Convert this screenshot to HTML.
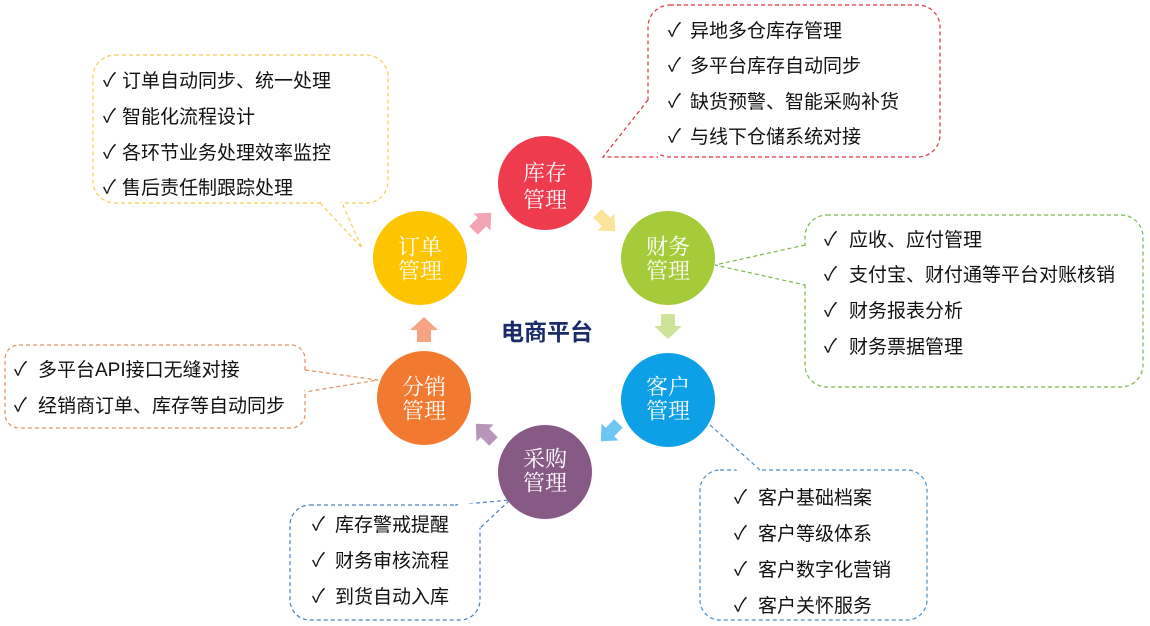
<!DOCTYPE html>
<html><head><meta charset="utf-8"><style>
html,body{margin:0;padding:0;background:#fff;width:1150px;height:626px;overflow:hidden}
svg text{font-family:"Liberation Sans","Noto Sans CJK SC",sans-serif}
.t{font-size:19px;fill:#111;dominant-baseline:central}
.c{font-size:22px;fill:#fff;text-anchor:middle;dominant-baseline:central;font-family:"Noto Serif CJK SC","Noto Sans CJK SC",serif!important}
</style></head><body>
<svg width="1150" height="626" viewBox="0 0 1150 626" xmlns="http://www.w3.org/2000/svg">
<g fill="none" stroke-width="1.2" stroke-dasharray="4,3">
 <!-- orders -->
 <rect x="93" y="55" width="295" height="148" rx="22" stroke="#f2cf55"/>
 <!-- inventory -->
 <rect x="648" y="5" width="292" height="152" rx="22" stroke="#e0323e"/>
 <!-- finance -->
 <rect x="805" y="215" width="338" height="172" rx="22" stroke="#7ab648"/>
 <!-- distribution -->
 <rect x="5" y="345" width="300" height="83" rx="14" stroke="#e09060"/>
 <!-- customer -->
 <rect x="700" y="470" width="227" height="150" rx="20" stroke="#4a90c8"/>
 <!-- purchase -->
 <rect x="290" y="505" width="190" height="115" rx="20" stroke="#4a7fc0"/>
</g>
<g stroke-width="1.2" stroke-dasharray="4,3" fill="#fff">
 <path d="M320 203 L362 248 L342 203" stroke="#f2cf55"/>
 <path d="M648 100 L603 157 L658 157" stroke="#e0323e"/>
 <path d="M805 245 L715 265 L805 285" stroke="#7ab648"/>
 <path d="M305 370 L378 380 L305 392" stroke="#e09060"/>
 <path d="M710 425 L760 470 L735 470" stroke="#4a90c8"/>
 <path d="M455 505 L510 500 L480 528" stroke="#4a7fc0"/>
</g>
<g stroke="#fff" stroke-width="3">
 <line x1="322" y1="203" x2="340" y2="203"/>
 <line x1="648" y1="103" x2="648" y2="155"/>
 <line x1="805" y1="247" x2="805" y2="283"/>
 <line x1="305" y1="372" x2="305" y2="390"/>
 <line x1="737" y1="470" x2="758" y2="470"/>
 <line x1="458" y1="505" x2="480" y2="505"/>
 <line x1="480" y1="507" x2="480" y2="526"/>
</g>
<!-- circles -->
<circle cx="545" cy="183" r="47" fill="#ef3b4e"/>
<circle cx="668" cy="258" r="47" fill="#a6cb3a"/>
<circle cx="668" cy="400" r="47" fill="#0ea0e6"/>
<circle cx="545" cy="472" r="47" fill="#875a86"/>
<circle cx="424" cy="398" r="47" fill="#f27a30"/>
<circle cx="420" cy="258" r="47" fill="#fdc500"/>
<text class="c" x="545" y="172">库存</text><text class="c" x="545" y="199">管理</text>
<text class="c" x="668" y="246">财务</text><text class="c" x="668" y="270">管理</text>
<text class="c" x="668" y="386">客户</text><text class="c" x="668" y="410">管理</text>
<text class="c" x="545" y="458">采购</text><text class="c" x="545" y="482">管理</text>
<text class="c" x="424" y="386">分销</text><text class="c" x="424" y="410">管理</text>
<text class="c" x="420" y="246">订单</text><text class="c" x="420" y="270">管理</text>
<!-- arrows -->
<g>
 <polygon transform="translate(482,222) rotate(45)" points="-12,0 0,-13 12,0 6,0 6,12 -6,12 -6,0" fill="#f4a5b5"/>
 <polygon transform="translate(606,222) rotate(135)" points="-12,0 0,-13 12,0 6,0 6,12 -6,12 -6,0" fill="#fce49a"/>
 <polygon transform="translate(668,326) rotate(180)" points="-14,0 0,-13 14,0 7,0 7,12 -7,12 -7,0" fill="#cfe29a"/>
 <polygon transform="translate(610,432) rotate(225)" points="-12,0 0,-13 12,0 6,0 6,12 -6,12 -6,0" fill="#6ec6f2"/>
 <polygon transform="translate(485,433) rotate(-45)" points="-12,0 0,-13 12,0 6,0 6,12 -6,12 -6,0" fill="#b894b8"/>
 <polygon transform="translate(424,330)" points="-14,0 0,-13 14,0 7,0 7,12 -7,12 -7,0" fill="#f6a484"/>
</g>
<text x="547" y="332" text-anchor="middle" dominant-baseline="central" style="font-size:23px;font-weight:bold;fill:#1a2a6a">电商平台</text>
<!-- lists -->
<g class="t">
 <text class="t" x="103" y="81">✓ <tspan x="122">订单自动同步、统一处理</tspan></text>
 <text class="t" x="103" y="117">✓ <tspan x="122">智能化流程设计</tspan></text>
 <text class="t" x="103" y="153">✓ <tspan x="122">各环节业务处理效率监控</tspan></text>
 <text class="t" x="103" y="188">✓ <tspan x="122">售后责任制跟踪处理</tspan></text>

 <text class="t" x="668" y="31">✓ <tspan x="690">异地多仓库存管理</tspan></text>
 <text class="t" x="668" y="66">✓ <tspan x="690">多平台库存自动同步</tspan></text>
 <text class="t" x="668" y="102">✓ <tspan x="690">缺货预警、智能采购补货</tspan></text>
 <text class="t" x="668" y="137">✓ <tspan x="690">与线下仓储系统对接</tspan></text>

 <text class="t" x="824" y="240">✓ <tspan x="849">应收、应付管理</tspan></text>
 <text class="t" x="824" y="275">✓ <tspan x="849">支付宝、财付通等平台对账核销</tspan></text>
 <text class="t" x="824" y="311">✓ <tspan x="849">财务报表分析</tspan></text>
 <text class="t" x="824" y="347">✓ <tspan x="849">财务票据管理</tspan></text>

 <text class="t" x="14" y="370">✓ <tspan x="38">多平台API接口无缝对接</tspan></text>
 <text class="t" x="14" y="406">✓ <tspan x="38">经销商订单、库存等自动同步</tspan></text>

 <text class="t" x="734" y="498">✓ <tspan x="758">客户基础档案</tspan></text>
 <text class="t" x="734" y="534">✓ <tspan x="758">客户等级体系</tspan></text>
 <text class="t" x="734" y="570">✓ <tspan x="758">客户数字化营销</tspan></text>
 <text class="t" x="734" y="606">✓ <tspan x="758">客户关怀服务</tspan></text>

 <text class="t" x="312" y="525">✓ <tspan x="335">库存警戒提醒</tspan></text>
 <text class="t" x="312" y="561">✓ <tspan x="335">财务审核流程</tspan></text>
 <text class="t" x="312" y="597">✓ <tspan x="335">到货自动入库</tspan></text>
</g>
</svg>
</body></html>
